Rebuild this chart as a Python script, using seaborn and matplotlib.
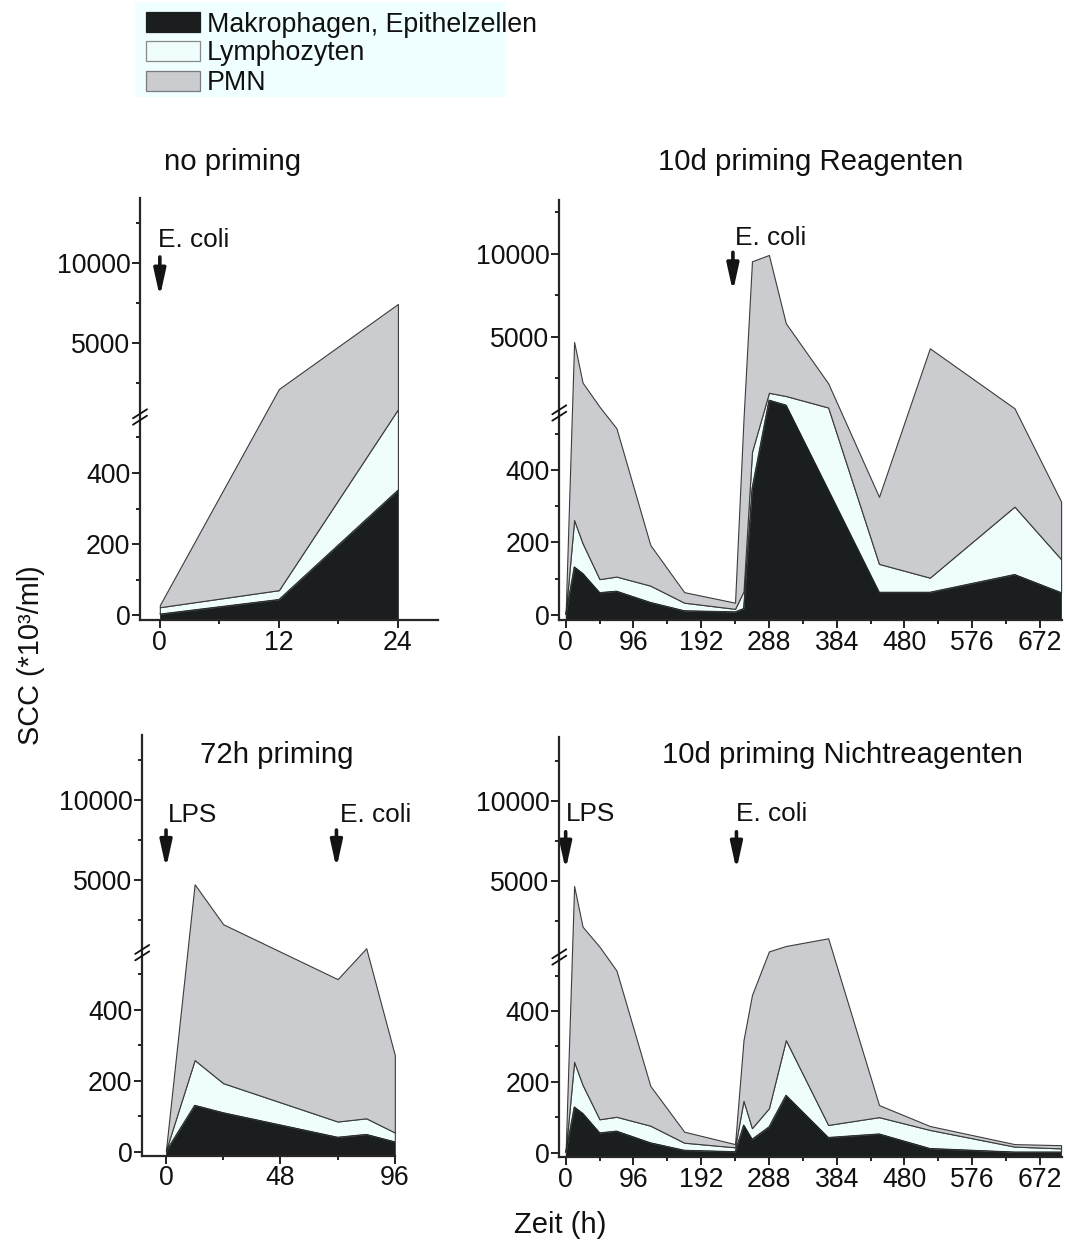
import numpy as np
import pandas as pd
import matplotlib
matplotlib.use("Agg")
import matplotlib.pyplot as plt
import seaborn as sns
from matplotlib.patches import Rectangle
from matplotlib.ticker import FixedLocator, FixedFormatter, NullFormatter

# ---------------- data (cells *10^3/ml) ----------------
legend_labels = ["Makrophagen, Epithelzellen", "Lymphozyten", "PMN"]
panel_titles = ["no priming", "10d priming Reagenten", "72h priming", "10d priming Nichtreagenten"]

# no priming
t_noprim = [0, 12, 24]
mak_noprim = [3, 44, 352]
lym_noprim = [19, 26, 504]
pmn_noprim = [6, 2055, 6581]

# 10d priming Reagenten / Nichtreagenten share the sampling times
t_10d = [0, 12, 24, 48, 72, 120, 168, 240, 252, 264, 288, 312, 372, 444, 516, 636, 702]
mak_reag = [2, 133, 115, 62, 66, 35, 12, 9, 18, 350, 1205, 904, 345, 63, 63, 112, 62]
lym_reag = [2, 129, 83, 37, 40, 46, 22, 8, 47, 100, 435, 542, 408, 78, 40, 187, 92]
pmn_reag = [2, 4438, 2052, 702, 409, 112, 29, 17, 476, 9110, 8300, 4379, 1458, 185, 4216, 406, 159]

mak_nreag = [2, 130, 112, 57, 62, 29, 8, 4, 79, 39, 74, 163, 44, 54, 13, 3, 3]
lym_nreag = [2, 127, 80, 38, 40, 48, 21, 12, 68, 31, 52, 155, 35, 47, 52, 15, 10]
pmn_nreag = [2, 4433, 1952, 799, 412, 112, 31, 9, 171, 375, 474, 619, 1340, 34, 11, 7, 9]

# 72h priming
t_72h = [0, 12, 24, 72, 84, 96]
mak_72h = [2, 131, 110, 41, 49, 28]
lym_72h = [2, 127, 83, 44, 45, 26]
pmn_72h = [2, 4454, 2019, 401, 618, 218]

y_major = [0, 200, 400, 5000, 10000]
y_major_labels = ["0", "200", "400", "5000", "10000"]
y_minor = [100, 300, 500, 2500, 7500, 12500]

# ---------------- style ----------------
sns.set_theme(style="ticks")
plt.rcParams["font.family"] = ["Liberation Sans", "DejaVu Sans"]
plt.rcParams["axes.linewidth"] = 1.5

C_MAK = "#1b1e1f"
C_LYM = "#effdfd"
C_PMN = "#cbccd0"
C_EDGE = "#3c3c3c"

W, H = 1068, 1250
fig = plt.figure(figsize=(W / 100, H / 100), dpi=100)


def make_scale(a, B, f5, b):
    """Broken y axis: linear 0..B below the break, compressed linear above it."""
    fB = a * B
    fU = f5 + b * (B - 5000.0)

    def fwd(v):
        v = np.asarray(v, dtype=float)
        return np.where(v <= B, a * v, f5 + b * (v - 5000.0))

    def inv(f):
        f = np.asarray(f, dtype=float)
        out = np.where(f <= fB, f / a, np.where(f >= fU, 5000.0 + (f - f5) / b, B))
        return np.where(np.isnan(f), np.nan, out)

    return fwd, inv


def rect(left, top, right, bottom):
    return [left / W, 1 - bottom / H, (right - left) / W, (bottom - top) / H]


panels = [
    dict(pos=(140, 198, 437.6, 620), xlim=(-2, 28), xmaj=[0, 12, 24], xmin=[6, 18],
         scale=(0.355, 560, 272, 0.016), ylim=(-14, 14060),
         t=t_noprim, mak=mak_noprim, lym=lym_noprim, pmn=pmn_noprim,
         arrows=[(0, 10375, 7875, "E. coli", -0.2, 11020)], brk=198,
         title=(233, 170)),
    dict(pos=(559.3, 200, 1061.8, 620), xlim=(-9, 703), xmaj=list(range(0, 673, 96)),
         xmin=list(range(48, 700, 96)),
         scale=(0.3625, 557, 278, 0.0166), ylim=(-13.8, 13253),
         t=t_10d, mak=mak_reag, lym=lym_reag, pmn=pmn_reag,
         arrows=[(237, 10100, 7730, "E. coli", 240, 10540)], brk=202,
         title=(811, 170)),
    dict(pos=(142.2, 735, 395.3, 1155.7), xlim=(-10, 96.2), xmaj=[0, 48, 96], xmin=[24, 72],
         scale=(0.355, 560, 272, 0.016), ylim=(-11.3, 14040),
         t=t_72h, mak=mak_72h, lym=lym_72h, pmn=pmn_72h,
         arrows=[(0, 8100, 5710, "LPS", 0.7, 8620), (71.5, 8100, 5710, "E. coli", 72.8, 8620)],
         brk=199, title=(277, 763)),
    dict(pos=(559.3, 736.7, 1061.8, 1157), xlim=(-9, 703), xmaj=list(range(0, 673, 96)),
         xmin=list(range(48, 700, 96)),
         scale=(0.355, 560, 272, 0.016), ylim=(-11.3, 14020),
         t=t_10d, mak=mak_nreag, lym=lym_nreag, pmn=pmn_nreag,
         arrows=[(0, 8080, 5690, "LPS", 0, 8770), (242, 8080, 5690, "E. coli", 242, 8770)],
         brk=196, title=(842, 763)),
]

for i, p in enumerate(panels):
    ax = fig.add_axes(rect(*p["pos"]))
    fwd, inv = make_scale(*p["scale"])
    ax.set_yscale("function", functions=(fwd, inv))
    ax.set_ylim(*p["ylim"])
    ax.set_xlim(*p["xlim"])

    df = pd.DataFrame({"t": p["t"], "mak": p["mak"], "lym": p["lym"], "pmn": p["pmn"]})
    df["top_mak"] = df["mak"]
    df["top_lym"] = df["mak"] + df["lym"]
    df["top_pmn"] = df["top_lym"] + df["pmn"]
    base = p["ylim"][0]

    ax.fill_between(df["t"], base, df["top_mak"], facecolor=C_MAK, edgecolor=C_MAK, lw=0.5, zorder=2)
    ax.fill_between(df["t"], df["top_mak"], df["top_lym"], facecolor=C_LYM, edgecolor=C_EDGE, lw=0.8, zorder=2)
    ax.fill_between(df["t"], df["top_lym"], df["top_pmn"], facecolor=C_PMN, edgecolor=C_EDGE, lw=0.8, zorder=2)
    sns.lineplot(data=df, x="t", y="top_mak", ax=ax, color=C_MAK, lw=0.6, zorder=3,
                 errorbar=None, legend=False)

    sns.despine(ax=ax)
    ax.spines["left"].set_linewidth(1.6)
    ax.spines["bottom"].set_linewidth(1.6)
    ax.spines["left"].set_zorder(5)
    ax.spines["bottom"].set_zorder(5)

    ax.yaxis.set_major_locator(FixedLocator(y_major))
    ax.yaxis.set_major_formatter(FixedFormatter(y_major_labels))
    ax.yaxis.set_minor_locator(FixedLocator(y_minor))
    ax.yaxis.set_minor_formatter(NullFormatter())
    ax.xaxis.set_major_locator(FixedLocator(p["xmaj"]))
    ax.xaxis.set_minor_locator(FixedLocator(p["xmin"]))
    ax.xaxis.set_minor_formatter(NullFormatter())
    ax.tick_params(which="major", direction="out", length=5.5, width=1.3, labelsize=19.2,
                   pad=1.5, color="#111111", labelcolor="#111111")
    ax.tick_params(which="minor", direction="out", length=2.8, width=1.3, color="#111111")
    ax.set_xlabel("")
    ax.set_ylabel("")
    ax.grid(False)
    ax.set_facecolor("white")

    # axis break marks
    fmin, fmax = float(fwd(p["ylim"][0])), float(fwd(p["ylim"][1]))
    wpx = p["pos"][2] - p["pos"][0]
    hpx = p["pos"][3] - p["pos"][1]
    yb = (p["brk"] - fmin) / (fmax - fmin)
    dx, dy, sep = 7.0 / wpx, 4.5 / hpx, 3.2 / hpx
    for s in (-sep, sep):
        ax.plot([-dx, dx], [yb - dy + s, yb + dy + s], transform=ax.transAxes,
                color="#111111", lw=1.3, clip_on=False, zorder=6)

    # arrows and labels
    for (xa, v_tail, v_tip, label, xt, vt) in p["arrows"]:
        ax.annotate("", xy=(xa, v_tip), xytext=(xa, v_tail),
                    arrowprops=dict(arrowstyle="-|>,head_length=1.0,head_width=0.22",
                                    mutation_scale=16, lw=2.6, color="#141414",
                                    shrinkA=0, shrinkB=0), annotation_clip=False)
        ax.text(xt, vt, label, ha="left", va="baseline", fontsize=18.9, color="#111111")

    tx, ty = p["title"]
    fig.text(tx / W, 1 - ty / H, panel_titles[i], ha="center", va="baseline",
             fontsize=21.2, color="#111111")

# axis labels
fig.text(31 / W, 1 - 655 / H, "SCC (*10³/ml)", rotation=90, ha="center", va="center",
         fontsize=20.8, color="#111111")
fig.text(560 / W, 1 - 1225 / H, "Zeit (h)", ha="center", va="center",
         fontsize=21, color="#111111")

# legend (manual box)
fig.add_artist(Rectangle((135 / W, 1 - 97 / H), (506 - 135) / W, 95 / H,
                         transform=fig.transFigure, facecolor="#f0ffff", edgecolor="none", zorder=0))
leg_colors = [C_MAK, C_LYM, C_PMN]
leg_edges = [C_MAK, "#8a8a8a", "#7a7a7a"]
leg_tops = [12.3, 41.0, 71.0]
leg_base = [31.7, 60.5, 90.0]
for c, ec, top, bl, lab in zip(leg_colors, leg_edges, leg_tops, leg_base, legend_labels):
    fig.add_artist(Rectangle((146 / W, 1 - (top + 19.5) / H), 54 / W, 19.5 / H,
                             transform=fig.transFigure, facecolor=c, edgecolor=ec, lw=0.9, zorder=1))
    fig.text(207 / W, 1 - bl / H, lab, ha="left", va="baseline", fontsize=19.3, color="#111111")

fig.savefig("out.png", dpi=100, facecolor="white")
